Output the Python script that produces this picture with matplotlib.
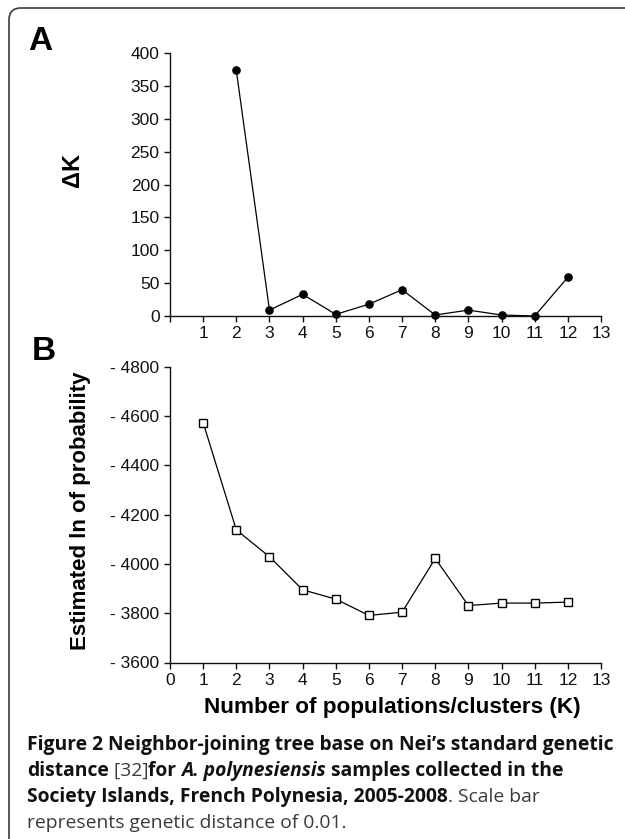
import numpy as np
import matplotlib
matplotlib.use("Agg")
import matplotlib.pyplot as plt
from matplotlib.patches import FancyBboxPatch
from matplotlib.transforms import IdentityTransform

# panel A: delta K per K
k_a = [2, 3, 4, 5, 6, 7, 8, 9, 10, 11, 12]
delta_k = [374, 9, 33, 2.5, 18, 40, 1.5, 9, 1.5, 0, 59]

# panel B: estimated ln probability per K
k_b = [1, 2, 3, 4, 5, 6, 7, 8, 9, 10, 11, 12]
ln_prob = [-4573, -4138, -4029, -3895, -3857, -3791, -3804, -4022, -3831, -3841, -3841, -3845]

a_yticks = [0, 50, 100, 150, 200, 250, 300, 350, 400]
b_yticks = [-4800, -4600, -4400, -4200, -4000, -3800, -3600]
k_ticks = list(range(0, 14))

W, H = 625, 839
AXFONT = "Liberation Sans"
CAPFONT = "Open Sans"

plt.rcParams["font.family"] = [AXFONT, "DejaVu Sans"]

fig = plt.figure(figsize=(W / 100, H / 100), dpi=100)
fig.patch.set_facecolor("white")


def px_rect(left, top, right, bottom):
    return [left / W, 1 - bottom / H, (right - left) / W, (bottom - top) / H]


def style_axis(ax):
    for s in ("top", "right"):
        ax.spines[s].set_visible(False)
    for s in ("left", "bottom"):
        ax.spines[s].set_linewidth(1.0)
        ax.spines[s].set_color("#111111")
    ax.tick_params(direction="out", length=4.5, width=1.0, colors="#111111",
                   labelsize=12.5, pad=3)


# ---- panel A
axA = fig.add_axes(px_rect(170, 53.3, 601, 316))
axA.plot(k_a, delta_k, color="black", lw=0.9, marker="o", ms=5.2,
         mfc="black", mec="black", clip_on=False)
axA.set_xlim(0, 13)
axA.set_ylim(0, 400)
axA.set_yticks(a_yticks)
axA.set_xticks(k_ticks)
axA.set_xticklabels([""] + [str(k) for k in k_ticks[1:]])
style_axis(axA)

# ---- panel B
axB = fig.add_axes(px_rect(170, 366.7, 601, 662.5))
axB.plot(k_b, ln_prob, color="black", lw=0.9, marker="s", ms=5.2,
         mfc="white", mec="black", mew=1.0, clip_on=False)
axB.set_xlim(0, 13)
axB.set_ylim(-3600, -4800)
axB.set_yticks(b_yticks)
axB.set_yticklabels(["- %d" % abs(v) for v in b_yticks])
axB.set_xticks(k_ticks)
axB.set_xticklabels([str(k) for k in k_ticks])
style_axis(axB)

ident = IdentityTransform()


def ptext(x, y, s, **kw):
    # pixel coords measured from the top-left corner
    return fig.text(x, H - y, s, transform=ident, **kw)


ptext(28, 50, "A", fontsize=24, fontweight="bold", va="baseline")
ptext(32, 360, "B", fontsize=24, fontweight="bold", va="baseline")
ptext(72, 170, "\u0394K", fontsize=17, fontweight="bold", rotation=90,
      ha="center", va="center")
ptext(81, 511, "Estimated ln of probability", fontsize=16, fontweight="bold",
      rotation=90, ha="center", va="center")
ptext(392, 707, "Number of populations/clusters (K)", fontsize=16.2,
      fontweight="bold", ha="center", va="center")

# ---- caption, drawn run by run
caption = [
    [("Figure 2", "bold", "normal"),
     (" Neighbor-joining tree base on Nei\u2019s standard genetic", "bold", "normal")],
    [("distance", "bold", "normal"), (" [32]", "normal", "normal"),
     ("for ", "bold", "normal"), ("A. polynesiensis", "bold", "italic"),
     (" samples collected in the", "bold", "normal")],
    [("Society Islands, French Polynesia, 2005-2008", "bold", "normal"),
     (". Scale bar", "normal", "normal")],
    [("represents genetic distance of 0.01.", "normal", "normal")],
]

renderer = fig.canvas.get_renderer()
cap_size = 13.9
y0 = 750
for i, line in enumerate(caption):
    x = 27
    for txt, weight, style in line:
        color = "#111111" if weight == "bold" else "#3a3a3a"
        t = ptext(x, y0 + 26 * i, txt, fontsize=cap_size, fontweight=weight,
                  fontstyle=style, family=[CAPFONT, "DejaVu Sans"],
                  color=color, va="baseline")
        x += t.get_window_extent(renderer).width

# ---- rounded frame that runs off the right and bottom edges
frame = FancyBboxPatch((9, -30), 660, H - 8 + 30,
                       boxstyle="round,pad=0,rounding_size=12",
                       transform=ident, fill=False, edgecolor="#3c3c3c",
                       linewidth=1.2)
fig.patches.append(frame)

fig.savefig("out.png", dpi=100)
